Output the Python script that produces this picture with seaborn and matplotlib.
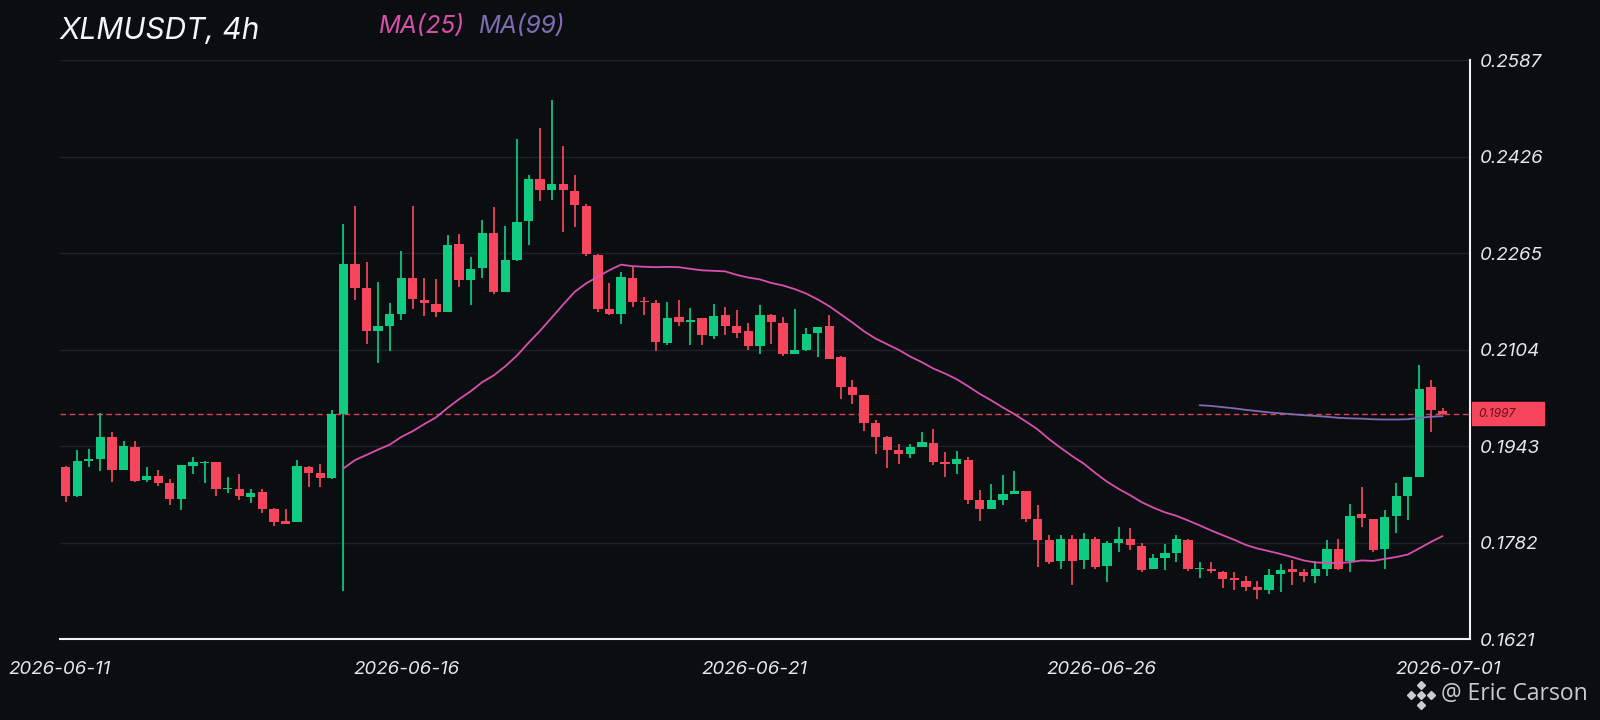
import numpy as np
import pandas as pd
import matplotlib
matplotlib.use("Agg")
import matplotlib.pyplot as plt
import seaborn as sns
from matplotlib.patches import Rectangle
from matplotlib.transforms import blended_transform_factory

# ---------------- data ----------------
title_text = "XLMUSDT, 4h"
ma_periods = [25, 99]
date_labels = ["2026-06-11", "2026-06-16", "2026-06-21", "2026-06-26", "2026-07-01"]
date_positions = [-0.5, 29.5, 59.5, 89.5, 119.5]
price_ticks = [0.1621, 0.1782, 0.1943, 0.2104, 0.2265, 0.2426, 0.2587]
last_price = 0.1997

opens = [0.1909, 0.1860, 0.1919, 0.1922, 0.1959, 0.1904, 0.1941, 0.1886, 0.1893, 0.1882,
         0.1855, 0.1910, 0.1915, 0.1916, 0.1871, 0.1872, 0.1859, 0.1866, 0.1839, 0.1818,
         0.1816, 0.1909, 0.1899, 0.1890, 0.1996, 0.2246, 0.2207, 0.2135, 0.2144, 0.2164,
         0.2223, 0.2187, 0.2180, 0.2166, 0.2281, 0.2220, 0.2240, 0.2299, 0.2200, 0.2254,
         0.2318, 0.2389, 0.2371, 0.2380, 0.2369, 0.2343, 0.2261, 0.2171, 0.2164, 0.2223,
         0.2185, 0.2181, 0.2115, 0.2158, 0.2150, 0.2156, 0.2126, 0.2162, 0.2143, 0.2135,
         0.2110, 0.2161, 0.2148, 0.2097, 0.2104, 0.2131, 0.2143, 0.2091, 0.2041, 0.2028,
         0.1982, 0.1959, 0.1937, 0.1930, 0.1942, 0.1949, 0.1917, 0.1913, 0.1920, 0.1854,
         0.1839, 0.1854, 0.1864, 0.1869, 0.1821, 0.1786, 0.1752, 0.1788, 0.1753, 0.1789,
         0.1743, 0.1782, 0.1788, 0.1776, 0.1738, 0.1756, 0.1765, 0.1786, 0.1738, 0.1738,
         0.1734, 0.1723, 0.1719, 0.1708, 0.1703, 0.1730, 0.1738, 0.1734, 0.1727, 0.1738,
         0.1771, 0.1752, 0.1830, 0.1821, 0.1771, 0.1826, 0.1860, 0.1892, 0.2041, 0.2002]
highs = [0.1910, 0.1937, 0.1939, 0.1999, 0.1966, 0.1952, 0.1951, 0.1909, 0.1904, 0.1889,
         0.1912, 0.1925, 0.1918, 0.1917, 0.1891, 0.1897, 0.1871, 0.1872, 0.1840, 0.1838,
         0.1920, 0.1910, 0.1913, 0.2003, 0.2314, 0.2344, 0.2250, 0.2217, 0.2181, 0.2268,
         0.2343, 0.2224, 0.2222, 0.2296, 0.2297, 0.2259, 0.2321, 0.2342, 0.2310, 0.2456,
         0.2395, 0.2473, 0.2520, 0.2443, 0.2396, 0.2347, 0.2263, 0.2215, 0.2233, 0.2243,
         0.2191, 0.2186, 0.2184, 0.2187, 0.2174, 0.2157, 0.2180, 0.2175, 0.2170, 0.2148,
         0.2178, 0.2164, 0.2159, 0.2171, 0.2140, 0.2142, 0.2161, 0.2093, 0.2053, 0.2028,
         0.1987, 0.1960, 0.1947, 0.1946, 0.1967, 0.1972, 0.1934, 0.1935, 0.1925, 0.1870,
         0.1880, 0.1895, 0.1902, 0.1869, 0.1845, 0.1795, 0.1795, 0.1795, 0.1799, 0.1791,
         0.1785, 0.1808, 0.1806, 0.1781, 0.1764, 0.1780, 0.1795, 0.1788, 0.1750, 0.1750,
         0.1735, 0.1734, 0.1726, 0.1719, 0.1738, 0.1746, 0.1753, 0.1738, 0.1752, 0.1786,
         0.1789, 0.1847, 0.1875, 0.1821, 0.1836, 0.1882, 0.1892, 0.2078, 0.2054, 0.2006]
lows = [0.1850, 0.1859, 0.1909, 0.1901, 0.1883, 0.1904, 0.1884, 0.1884, 0.1876, 0.1845,
        0.1836, 0.1897, 0.1882, 0.1860, 0.1865, 0.1854, 0.1848, 0.1832, 0.1810, 0.1813,
        0.1816, 0.1875, 0.1875, 0.1888, 0.1702, 0.2186, 0.2113, 0.2081, 0.2101, 0.2154,
        0.2172, 0.2160, 0.2158, 0.2166, 0.2209, 0.2179, 0.2224, 0.2197, 0.2200, 0.2252,
        0.2278, 0.2352, 0.2354, 0.2300, 0.2308, 0.2260, 0.2167, 0.2162, 0.2146, 0.2175,
        0.2162, 0.2102, 0.2112, 0.2143, 0.2111, 0.2112, 0.2121, 0.2129, 0.2124, 0.2104,
        0.2096, 0.2114, 0.2093, 0.2097, 0.2101, 0.2092, 0.2089, 0.2021, 0.2014, 0.1969,
        0.1930, 0.1906, 0.1914, 0.1924, 0.1941, 0.1911, 0.1891, 0.1896, 0.1847, 0.1819,
        0.1838, 0.1845, 0.1864, 0.1817, 0.1741, 0.1746, 0.1739, 0.1712, 0.1738, 0.1738,
        0.1717, 0.1767, 0.1770, 0.1734, 0.1738, 0.1736, 0.1750, 0.1735, 0.1723, 0.1731,
        0.1706, 0.1704, 0.1702, 0.1688, 0.1697, 0.1700, 0.1711, 0.1717, 0.1715, 0.1727,
        0.1736, 0.1734, 0.1808, 0.1767, 0.1738, 0.1799, 0.1820, 0.1892, 0.1967, 0.1995]
closes = [0.1860, 0.1918, 0.1922, 0.1958, 0.1904, 0.1943, 0.1885, 0.1893, 0.1882, 0.1855,
          0.1911, 0.1917, 0.1917, 0.1872, 0.1873, 0.1860, 0.1865, 0.1839, 0.1817, 0.1814,
          0.1910, 0.1899, 0.1890, 0.1996, 0.2247, 0.2207, 0.2135, 0.2144, 0.2164, 0.2223,
          0.2189, 0.2181, 0.2166, 0.2279, 0.2220, 0.2239, 0.2299, 0.2200, 0.2254, 0.2317,
          0.2389, 0.2371, 0.2381, 0.2370, 0.2345, 0.2264, 0.2171, 0.2164, 0.2225, 0.2183,
          0.2183, 0.2117, 0.2157, 0.2150, 0.2154, 0.2128, 0.2160, 0.2143, 0.2132, 0.2110,
          0.2161, 0.2150, 0.2096, 0.2104, 0.2130, 0.2142, 0.2089, 0.2041, 0.2029, 0.1982,
          0.1959, 0.1936, 0.1930, 0.1942, 0.1950, 0.1917, 0.1913, 0.1921, 0.1853, 0.1839,
          0.1854, 0.1863, 0.1868, 0.1821, 0.1786, 0.1750, 0.1788, 0.1752, 0.1789, 0.1742,
          0.1781, 0.1788, 0.1778, 0.1737, 0.1756, 0.1765, 0.1788, 0.1738, 0.1739, 0.1735,
          0.1721, 0.1720, 0.1708, 0.1704, 0.1728, 0.1737, 0.1734, 0.1727, 0.1738, 0.1771,
          0.1738, 0.1826, 0.1824, 0.1770, 0.1825, 0.1860, 0.1892, 0.2039, 0.2003, 0.1997]

# ---------------- style ----------------
BG = "#0b0e11"
UP = "#0ecb81"
DOWN = "#f6465d"
MA_COLORS = ["#d94fae", "#7f6cb3"]
GRID = "#1e2227"
AXIS = "#f2f2f2"
TEXT = "#e8e8e8"

sns.set_theme(style="dark", rc={"axes.facecolor": BG, "figure.facecolor": BG,
                                "savefig.facecolor": BG})
plt.rcParams["font.family"] = ["Inter", "Roboto", "DejaVu Sans"]

df = pd.DataFrame({"open": opens, "high": highs, "low": lows, "close": closes})
df["idx"] = np.arange(len(df))
for p in ma_periods:
    df[f"ma{p}"] = df["close"].rolling(p).mean()

fig = plt.figure(figsize=(16, 7.2), dpi=100)
ax_left_px, ax_right_px = 59.9, 1470.0
ax_top_px, ax_bot_px = 60.0, 639.3
ax = fig.add_axes([ax_left_px / 1600, 1 - ax_bot_px / 720,
                   (ax_right_px - ax_left_px) / 1600, (ax_bot_px - ax_top_px) / 720])
ax.set_facecolor(BG)

# candles
up = df["close"] >= df["open"]
colors = np.where(up, UP, DOWN)
ax.vlines(df["idx"], df["low"], df["high"], colors=colors, linewidth=1.25, zorder=3)
body_bottom = np.minimum(df["open"], df["close"])
body_h = np.maximum(np.abs(df["close"] - df["open"]), 0.00015)
ax.bar(df["idx"], body_h, bottom=body_bottom, width=0.8, color=colors,
       linewidth=0, zorder=4)

# moving averages
for p, c in zip(ma_periods, MA_COLORS):
    sub = df.dropna(subset=[f"ma{p}"])
    sns.lineplot(x=sub["idx"], y=sub[f"ma{p}"], ax=ax, color=c, linewidth=1.3,
                 zorder=5, legend=False)

# last price dashed line
ax.axhline(last_price, color=DOWN, linestyle=(0, (4, 2.6)), linewidth=1.0,
           alpha=0.9, zorder=2)

# axes
ax.set_xlim(-0.5, 121.37)
ax.set_ylim(price_ticks[0], price_ticks[-1])
ax.set_xlabel("")
ax.set_ylabel("")
ax.set_yticks(price_ticks)
ax.set_yticklabels([f"{v:.4f}" for v in price_ticks], fontstyle="italic")
ax.set_xticks(date_positions)
ax.set_xticklabels(date_labels, fontstyle="italic")
ax.yaxis.tick_right()
ax.tick_params(axis="y", length=0, pad=7, labelsize=13.5, labelcolor=TEXT)
ax.tick_params(axis="x", length=0, pad=15.5, labelsize=13.5, labelcolor=TEXT)
ax.grid(axis="y", color=GRID, linewidth=1.0)
ax.grid(axis="x", visible=False)
for side in ["top", "left"]:
    ax.spines[side].set_visible(False)
for side in ["bottom", "right"]:
    ax.spines[side].set_visible(True)
    ax.spines[side].set_color(AXIS)
    ax.spines[side].set_linewidth(1.5)

# price tag
btf = blended_transform_factory(ax.transAxes, ax.transData)
tag_h = 23 / 5997
ax.add_patch(Rectangle((1.0015, last_price - tag_h / 2), 0.0511, tag_h,
                       transform=btf, color=DOWN, clip_on=False, zorder=6))
ax.text(1.0063, last_price, f"{last_price:.4f}", transform=btf, fontsize=8.6,
        fontstyle="italic", color="#6a0c19", va="center", ha="left",
        clip_on=False, zorder=7)

# header
fig.text(60 / 1600, 1 - 31 / 720, title_text, fontsize=21.5, fontstyle="italic",
         color="#f5f5f5", va="center", ha="left")
fig.text(379 / 1600, 1 - 26 / 720, f"MA({ma_periods[0]})", fontsize=17.5,
         fontstyle="italic", color=MA_COLORS[0], va="center", ha="left")
fig.text(479 / 1600, 1 - 26 / 720, f"MA({ma_periods[1]})", fontsize=17.5,
         fontstyle="italic", color=MA_COLORS[1], va="center", ha="left")

# watermark
fig.text(1441 / 1600, 1 - 694 / 720, "@ Eric Carson", fontsize=16.5,
         family=["Open Sans", "DejaVu Sans"], color="#cccccc", va="center", ha="left")
logo_x = np.array([1421, 1411, 1431, 1421, 1421]) / 1600
logo_y = 1 - np.array([695, 695, 695, 685, 705]) / 720
fig.add_artist(plt.Line2D(logo_x, logo_y, transform=fig.transFigure, marker="D",
                          linestyle="none", markersize=4.3, color="#cccccc"))

fig.savefig("out.png", dpi=100, facecolor=BG)
